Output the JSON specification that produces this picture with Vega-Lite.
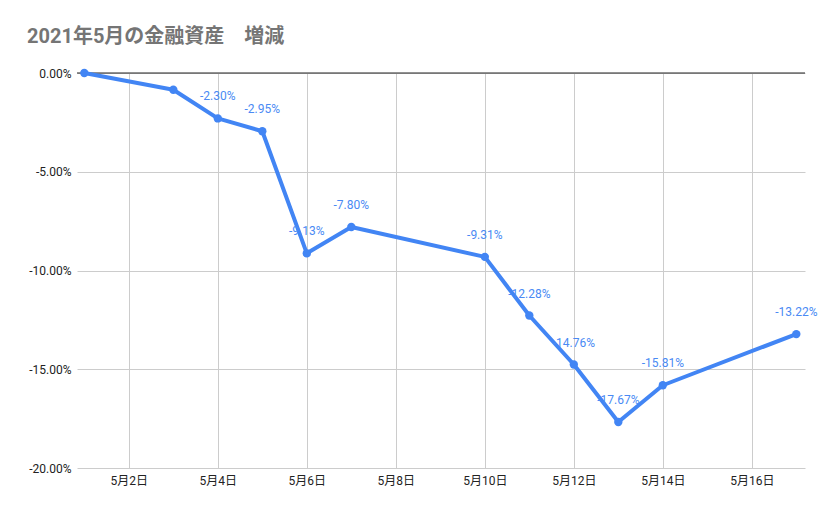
{
  "$schema": "https://vega.github.io/schema/vega-lite/v6.json",
  "width": 728,
  "height": 395,
  "autosize": "none",
  "padding": {"left": 77, "top": 73, "right": 24, "bottom": 46},
  "title": {
    "text": "2021年5月の金融資産　増減",
    "anchor": "start",
    "frame": "group",
    "dx": -50,
    "offset": 4,
    "baseline": "alphabetic",
    "font": "Roboto, 'Noto Sans CJK JP'",
    "fontSize": 20,
    "fontWeight": "bold",
    "color": "#757575"
  },
  "data": {
    "values": [
      {"day": 1, "change": 0},
      {"day": 3, "change": -0.0085},
      {"day": 4, "change": -0.0230},
      {"day": 5, "change": -0.0295},
      {"day": 6, "change": -0.0913},
      {"day": 7, "change": -0.0780},
      {"day": 10, "change": -0.0931},
      {"day": 11, "change": -0.1228},
      {"day": 12, "change": -0.1476},
      {"day": 13, "change": -0.1767},
      {"day": 14, "change": -0.1581},
      {"day": 17, "change": -0.1322}
    ]
  },
  "encoding": {
    "x": {
      "field": "day",
      "type": "quantitative",
      "scale": {"domain": [0.836, 17.195], "nice": false, "zero": false},
      "axis": {
        "title": null,
        "values": [2, 4, 6, 8, 10, 12, 14, 16],
        "labelExpr": "'5月' + datum.value + '日'",
        "grid": true,
        "gridColor": "#cccccc",
        "domain": false,
        "ticks": false,
        "labelPadding": 7,
        "labelFont": "Roboto, 'Noto Sans CJK JP'",
        "labelFontSize": 12,
        "labelColor": "#222222"
      }
    },
    "y": {
      "field": "change",
      "type": "quantitative",
      "scale": {"domain": [-0.2, 0], "nice": false},
      "axis": {
        "title": null,
        "values": [0, -0.05, -0.1, -0.15, -0.2],
        "format": ".2%",
        "grid": true,
        "gridColor": "#cccccc",
        "domain": false,
        "ticks": false,
        "labelPadding": 6,
        "labelFont": "Roboto",
        "labelFontSize": 12,
        "labelColor": "#222222"
      }
    }
  },
  "layer": [
    {
      "data": {"values": [{"level": 0}]},
      "mark": {"type": "rule", "color": "#222222", "strokeWidth": 1},
      "encoding": {"x": null, "y": {"field": "level", "type": "quantitative"}}
    },
    {
      "mark": {"type": "line", "color": "#4285f4", "strokeWidth": 4, "strokeJoin": "round"}
    },
    {
      "mark": {"type": "point", "filled": true, "color": "#4285f4", "size": 70, "opacity": 1}
    },
    {
      "transform": [{"filter": "datum.day > 3"}],
      "mark": {"type": "text", "color": "#4a8af4", "dy": -22, "font": "Roboto", "fontSize": 12},
      "encoding": {"text": {"field": "change", "type": "quantitative", "format": ".2%"}}
    }
  ],
  "config": {
    "view": {"stroke": null},
    "locale": {
      "number": {
        "decimal": ".",
        "thousands": ",",
        "grouping": [3],
        "currency": ["$", ""],
        "minus": "-"
      }
    }
  }
}
